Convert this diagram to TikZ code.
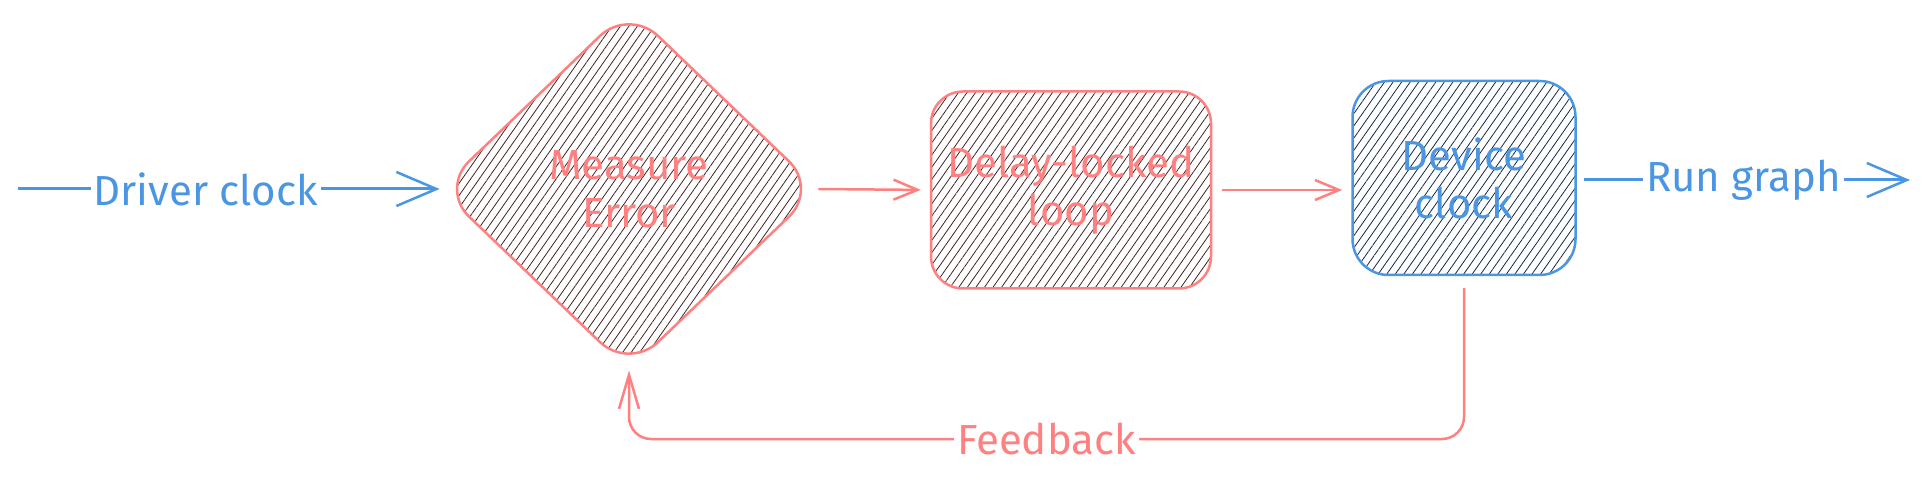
\documentclass[tikz,border=0pt]{standalone}
\usepackage{fontspec}
\setmainfont{Fira Sans}
\usetikzlibrary{shapes.geometric,arrows.meta,patterns.meta}
\definecolor{sketchred}{RGB}{255,128,128}
\definecolor{sketchblue}{RGB}{74,150,226}
\definecolor{hatchred}{RGB}{65,35,35}
\definecolor{hatchblue}{RGB}{20,40,70}

\begin{document}
\begin{tikzpicture}[x=1pt, y=1pt,
  handfont/.style={font=\fontsize{42}{48}\selectfont},
  hatched/.style={draw=#1, line width=2.5pt, handfont, text=#1, align=center,
    inner sep=0pt,
    pattern={Lines[angle=55, distance=7pt, line width=0.8pt]}},
  flowlabel/.style={handfont, text=#1, fill=white, inner sep=3pt},
  bigtip/.style={-{Straight Barb[length=40pt, width=34pt, line width=2.5pt]}},
  smalltip/.style={-{Straight Barb[length=24pt, width=20pt, line width=2.5pt]}},
  feedtip/.style={-{Straight Barb[length=34pt, width=20pt, line width=2.5pt]}}]

% ── Canvas ───────────────────────────────────────────────────────────
\useasboundingbox (0,0) rectangle (1928,485);

% ── Blocks ───────────────────────────────────────────────────────────
\node[hatched=sketchred, pattern color=hatchred, diamond, aspect=1.05,
      minimum width=378pt, minimum height=362pt, rounded corners=40pt]
  (measure) at (629,296) {Measure\\Error};
\node[hatched=sketchred, pattern color=hatchred, rectangle,
      minimum width=280pt, minimum height=197pt, rounded corners=32pt]
  (dll) at (1071,295) {Delay-locked\\loop};
\node[hatched=sketchblue, pattern color=hatchblue, rectangle,
      minimum width=223pt, minimum height=194pt, rounded corners=36pt]
  (device) at (1464,307) {Device\\clock};

% ── Free ends ────────────────────────────────────────────────────────
\coordinate (driverin) at (18,296);
\coordinate (runout) at (1910,305);
\coordinate (fbbottom) at (1464,46);

% ── Connectors ───────────────────────────────────────────────────────
\draw[sketchblue, line width=3pt, bigtip]
  (driverin) -- node[flowlabel=sketchblue, pos=0.445] {Driver clock} (measure.west);
\draw[sketchred, line width=2.5pt, smalltip, shorten >=9pt]
  (measure.east) -- (dll.west);
\draw[sketchred, line width=2.5pt, smalltip, shorten <=10pt, shorten >=9pt]
  (dll.east) -- (dll.east -| device.west);
\draw[sketchblue, line width=3pt, bigtip, shorten <=7pt]
  (device.east |- runout) -- node[flowlabel=sketchblue] {Run graph} (runout);
% feedback loop back to the comparator
\draw[sketchred, line width=2.5pt, feedtip, rounded corners=22pt,
      shorten <=12pt]
  (device.south) -- (fbbottom) -| node[flowlabel=sketchred, pos=0.25] {Feedback}
  (measure.south);

\end{tikzpicture}
\end{document}
